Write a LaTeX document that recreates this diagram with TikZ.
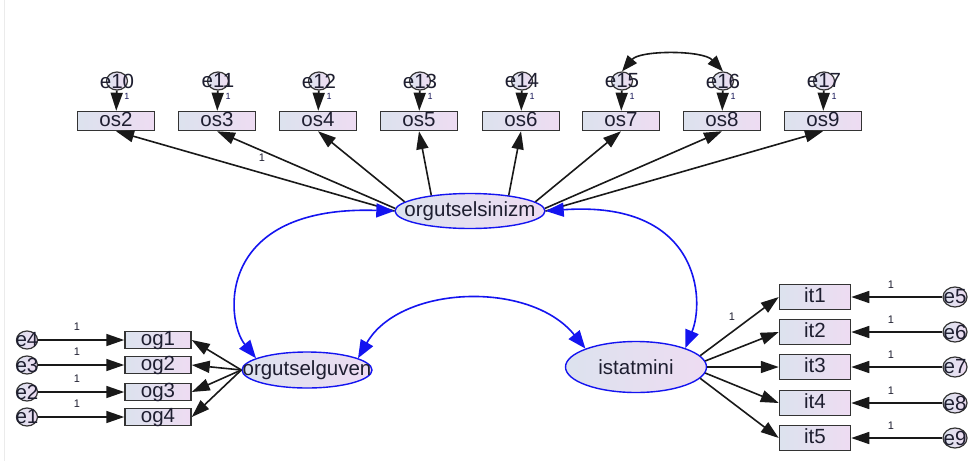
\documentclass[tikz,border=0pt]{standalone}
\usepackage{fontspec}
\setmainfont{Liberation Sans}
\usetikzlibrary{arrows.meta,shapes.geometric}
\definecolor{fillL}{HTML}{DCE2EE}
\definecolor{fillR}{HTML}{EEDCF2}
\definecolor{txt}{HTML}{1E1E30}
\definecolor{covblue}{HTML}{1414F0}
\begin{document}
\begin{tikzpicture}[x=1pt,y=-1pt,
  big/.style={font=\fontsize{20.5}{22}\selectfont, text=txt, inner sep=0pt},
  obsbox/.style={big, draw=black!80, line width=1.5pt, left color=fillL, right color=fillR, text height=14pt, text depth=3pt},
  osbox/.style={obsbox, minimum width=77pt, minimum height=19pt},
  ogbox/.style={obsbox, minimum width=66pt, minimum height=17pt},
  itbox/.style={obsbox, minimum width=71pt, minimum height=25pt},
  latent/.style={ellipse, draw=covblue, line width=1.4pt, left color=fillL, right color=fillR, inner sep=0pt},
  err/.style={ellipse, draw=black!80, line width=1.2pt, left color=fillL, right color=fillR, minimum width=21pt, minimum height=18pt, inner sep=0pt},
  one/.style={font=\fontsize{11}{11}\selectfont, text=txt, inner sep=0pt},
  small1/.style={font=\fontsize{9}{9}\selectfont, text=txt!80!blue, inner sep=0pt},
  path/.style={line width=1.6pt, draw=black!90, -{Triangle[length=18pt,width=12pt]}},
  cov/.style={line width=1.6pt, draw=covblue, fill=none, {Triangle[length=18pt,width=14pt]}-{Triangle[length=18pt,width=14pt]}},
  ecov/.style={line width=1.6pt, draw=black!90, {Triangle[length=16pt,width=12pt]}-{Triangle[length=16pt,width=12pt]}},
]
\path[use as bounding box, clip] (0,0) rectangle (968,461);
\fill[white] (0,0) rectangle (968,461);
\draw[black!8, line width=1pt] (4,0) -- (4,461);

% latent variables
\node[latent, minimum width=150pt, minimum height=35pt, label={[big]center:orgutselsinizm}] (S) at (470,211) {};
\node[latent, minimum width=130pt, minimum height=36pt, label={[big]center:orgutselguven}] (G) at (307,370) {};
\node[latent, minimum width=141pt, minimum height=51pt, label={[big]center:istatmini}] (I) at (636,367) {};

% top observed + errors
\foreach \n/\x/\e in {2/116/10,3/217/11,4/318/12,5/419/13,6/521/14,7/621/15,8/722/16,9/823/17}{
  \node[osbox] (os\n) at (\x,121) {os\n};
  \node[err, label={[big]center:e\e}] (e\e) at (\x+1,81) {};
  \node[small1] (one\e) at (\x+11,96) {1};
  \draw[path] (e\e) -- (os\n);
}

% left observed + errors
\foreach \n/\y/\e in {1/340/4,2/365/3,3/392/2,4/417/1}{
  \node[ogbox] (og\n) at (158,\y) {og\n};
  \node[err, label={[big]center:e\e}] (e\e) at (27,\y) {};
  \node[one] (onel\n) at (77,\y-13) {1};
  \draw[path] (e\e) -- (og\n);
  \draw[path] (G.west) -- (og\n.east);
}

% right observed + errors
\foreach \n/\y/\e/\a in {1/297/5/10,2/332/6/5,3/367/7/0,4/403/8/-5,5/438/9/-10}{
  \node[itbox] (it\n) at (815,\y) {it\n};
  \node[err, minimum width=24pt, minimum height=20pt, label={[big]center:e\e}] (e\e) at (955,\y) {};
  \node[one] (oner\n) at (891,\y-12) {1};
  \draw[path] (e\e) -- (it\n);
  \draw[path] (I.\a) -- (it\n.west);
}

% orgutselsinizm -> os
\draw[path] (S.180) -- (os2.south);
\draw[path] (S.178) -- (os3.south);
\draw[path] (S.172) -- (os4.south);
\draw[path] (S.158) -- (os5.south);
\draw[path] (S.22) -- (os6.south);
\draw[path] (S.8) -- (os7.south);
\draw[path] (S.2) -- (os8.south);
\draw[path] (S.0) -- (os9.south);
\node[one] (oneos) at (262,158) {1};
\node[one] (oneit) at (732,317) {1};

% covariances
\draw[cov] (S.west) .. controls (215,205) and (225,320) .. (G.167);
\draw[cov] (S.east) .. controls (700,200) and (705,300) .. (I.21);
\draw[cov] (G.13) .. controls (400,285) and (530,280) .. (I.160);
\draw[ecov] (e15.north) .. controls (640,50) and (703,50) .. (e16.north);
\end{tikzpicture}
\end{document}
